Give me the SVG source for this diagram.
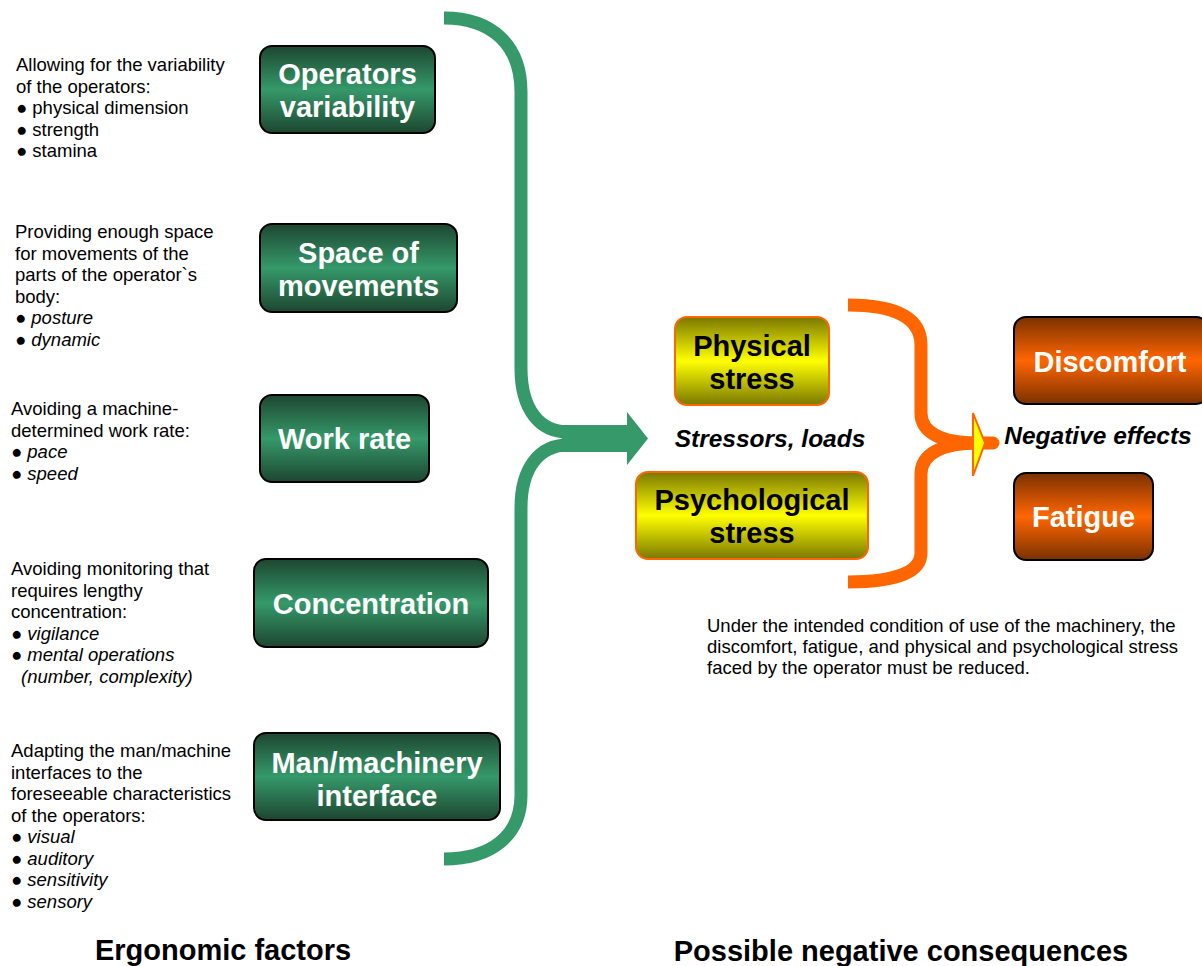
<svg xmlns="http://www.w3.org/2000/svg" width="1202" height="966" viewBox="0 0 1202 966">
<defs>
<linearGradient id="gGreen" x1="0" y1="0" x2="0" y2="1">
<stop offset="0" stop-color="#1d4630"/><stop offset="0.5" stop-color="#35996a"/><stop offset="1" stop-color="#1d4630"/>
</linearGradient>
<linearGradient id="gYellow" x1="0" y1="0" x2="0" y2="1">
<stop offset="0" stop-color="#7a7800"/><stop offset="0.5" stop-color="#ffff00"/><stop offset="1" stop-color="#7a7800"/>
</linearGradient>
<linearGradient id="gOrange" x1="0" y1="0" x2="0" y2="1">
<stop offset="0" stop-color="#7a3100"/><stop offset="0.5" stop-color="#ff6600"/><stop offset="1" stop-color="#7a3100"/>
</linearGradient>
<style>
.green{fill:url(#gGreen);stroke:#000;stroke-width:2}
.yellow{fill:url(#gYellow);stroke:#ff6600;stroke-width:2}
.orange{fill:url(#gOrange);stroke:#000;stroke-width:2}
.bt{font-family:"Liberation Sans",Arial,sans-serif;font-weight:bold;font-size:29px;text-anchor:middle}
.w{fill:#fff}
.k{fill:#000}
.desc{font-family:"Liberation Sans",Arial,sans-serif;font-size:18.5px;fill:#000}
.it{font-style:italic}
.lbl{font-family:"Liberation Sans",Arial,sans-serif;font-size:24.5px;font-weight:bold;font-style:italic;fill:#000;text-anchor:middle}
.title{font-family:"Liberation Sans",Arial,sans-serif;font-size:29px;font-weight:bold;fill:#000;text-anchor:middle}
.gs{fill:none;stroke:#35996a;stroke-width:13}
.os{fill:none;stroke:#ff6600;stroke-width:13}
</style>
</defs>

<g id="connectors">
<path class="gs" d="M444,18 C492,18 521,45 521,92 L521,368 C521,410 540,432 568,432"/>
<path class="gs" d="M568,445 C540,445 521,467 521,508 L521,795 C521,835 492,859 444,859"/>
<rect x="562" y="425" width="66" height="27" fill="#35996a"/>
<polygon points="627,412 648,438.5 627,465" fill="#35996a"/>
<path class="os" d="M848,305 C896,305 921,318 921,345 L921,413 C921,433 942,443 978,443"/>
<path class="os" d="M978,443 C942,443 921,454 921,474 L921,553 C921,572 896,582 848,582"/>
<line x1="975" y1="443" x2="993" y2="443" stroke="#ff6600" stroke-width="13" stroke-linecap="round"/>
<polygon points="973,413 985,443 973,476" fill="#ffff00" stroke="#ff6600" stroke-width="2"/>
</g>

<g id="operators-variability">
<rect class="green" x="260" y="46" width="175" height="87" rx="12"/>
<text class="bt w" x="347.5" y="84">Operators</text>
<text class="bt w" x="347.5" y="117">variability</text>
</g>
<g id="space-of-movements">
<rect class="green" x="260" y="224" width="197" height="88" rx="12"/>
<text class="bt w" x="358.5" y="263">Space of</text>
<text class="bt w" x="358.5" y="296">movements</text>
</g>
<g id="work-rate">
<rect class="green" x="260" y="395" width="169" height="87" rx="12"/>
<text class="bt w" x="344.5" y="449">Work rate</text>
</g>
<g id="concentration">
<rect class="green" x="254" y="559" width="234" height="88" rx="12"/>
<text class="bt w" x="371" y="614">Concentration</text>
</g>
<g id="man-machinery-interface">
<rect class="green" x="254" y="733" width="246" height="87" rx="12"/>
<text class="bt w" x="377" y="773">Man/machinery</text>
<text class="bt w" x="377" y="806">interface</text>
</g>

<g id="physical-stress">
<rect class="yellow" x="675" y="317" width="154" height="88" rx="12"/>
<text class="bt k" x="752" y="356">Physical</text>
<text class="bt k" x="752" y="389">stress</text>
</g>
<g id="psychological-stress">
<rect class="yellow" x="636" y="472" width="232" height="87" rx="12"/>
<text class="bt k" x="752" y="510">Psychological</text>
<text class="bt k" x="752" y="543">stress</text>
</g>
<g id="discomfort">
<rect class="orange" x="1014" y="317" width="194" height="87" rx="12"/>
<text class="bt w" x="1110" y="372">Discomfort</text>
</g>
<g id="fatigue">
<rect class="orange" x="1014" y="473" width="139" height="87" rx="12"/>
<text class="bt w" x="1083.5" y="527">Fatigue</text>
</g>

<g id="labels">
<text class="lbl" x="770" y="447">Stressors, loads</text>
<text class="lbl" x="1098" y="444">Negative effects</text>
</g>

<g id="descriptions">
<text class="desc" x="16" y="71">Allowing for the variability</text>
<text class="desc" x="16" y="92.5">of the operators:</text>
<text class="desc" x="16" y="114">● physical dimension</text>
<text class="desc" x="16" y="135.5">● strength</text>
<text class="desc" x="16" y="157">● stamina</text>

<text class="desc" x="15" y="238">Providing enough space</text>
<text class="desc" x="15" y="259.5">for movements of the</text>
<text class="desc" x="15" y="281">parts of the operator`s</text>
<text class="desc" x="15" y="302.5">body:</text>
<text class="desc" x="15" y="324">● <tspan class="it">posture</tspan></text>
<text class="desc" x="15" y="345.5">● <tspan class="it">dynamic</tspan></text>

<text class="desc" x="11" y="415">Avoiding a machine-</text>
<text class="desc" x="11" y="436.5">determined work rate:</text>
<text class="desc" x="11" y="458">● <tspan class="it">pace</tspan></text>
<text class="desc" x="11" y="479.5">● <tspan class="it">speed</tspan></text>

<text class="desc" x="11" y="575">Avoiding monitoring that</text>
<text class="desc" x="11" y="596.5">requires lengthy</text>
<text class="desc" x="11" y="618">concentration:</text>
<text class="desc" x="11" y="639.5">● <tspan class="it">vigilance</tspan></text>
<text class="desc" x="11" y="661">● <tspan class="it">mental operations</tspan></text>
<text class="desc it" x="21" y="682.5">(number, complexity)</text>

<text class="desc" x="11" y="757">Adapting the man/machine</text>
<text class="desc" x="11" y="778.5">interfaces to the</text>
<text class="desc" x="11" y="800">foreseeable characteristics</text>
<text class="desc" x="11" y="821.5">of the operators:</text>
<text class="desc" x="11" y="843">● <tspan class="it">visual</tspan></text>
<text class="desc" x="11" y="864.5">● <tspan class="it">auditory</tspan></text>
<text class="desc" x="11" y="886">● <tspan class="it">sensitivity</tspan></text>
<text class="desc" x="11" y="907.5">● <tspan class="it">sensory</tspan></text>

<text class="desc" x="707" y="632">Under the intended condition of use of the machinery, the</text>
<text class="desc" x="707" y="653">discomfort, fatigue, and physical and psychological stress</text>
<text class="desc" x="707" y="674">faced by the operator must be reduced.</text>
</g>

<g id="titles">
<text class="title" x="223" y="960">Ergonomic factors</text>
<text class="title" x="901" y="961">Possible negative consequences</text>
</g>
</svg>
